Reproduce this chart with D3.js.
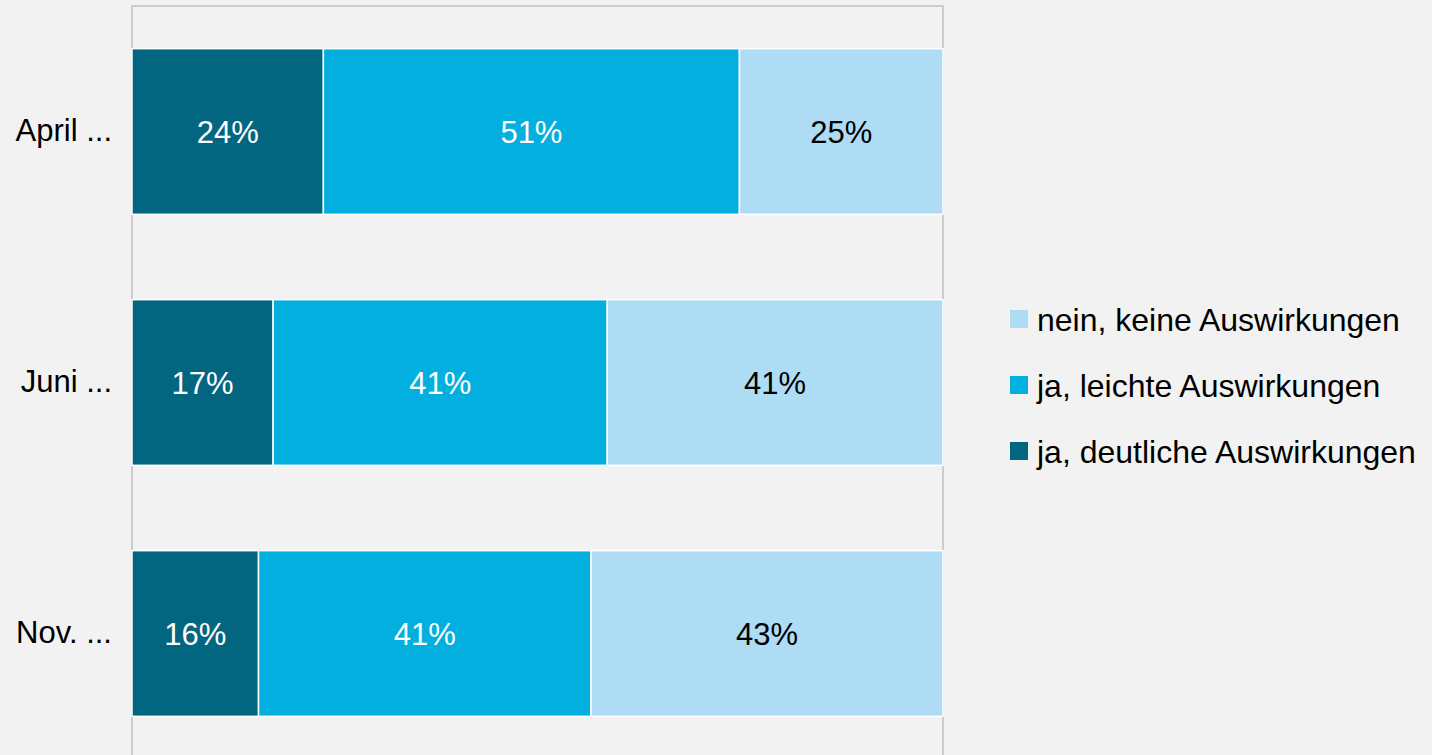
<!DOCTYPE html>
<html>
<head>
<meta charset="utf-8">
<script src="https://cdn.jsdelivr.net/npm/d3@7"></script>
<style>
  html, body { margin: 0; padding: 0; background: #f2f2f2; }
  svg { display: block; font-family: "Liberation Sans", Arial, sans-serif; }
</style>
</head>
<body>
<svg id="chart" width="1432" height="755"></svg>
<script>
const categories = ["April ...", "Juni ...", "Nov. ..."];
const seriesNames = ["ja, deutliche Auswirkungen", "ja, leichte Auswirkungen", "nein, keine Auswirkungen"];
const deutlich = [23.6, 17.4, 15.6];
const leicht = [51.3, 41.2, 41.0];
const keine = [25.1, 41.4, 43.4];
const seriesColors = ["#026680", "#02afde", "#aedcf4"];
const labelColors = ["#ffffff", "#ffffff", "#000000"];

const svg = d3.select("#chart");
const W = 1432, H = 755;
svg.append("rect").attr("width", W).attr("height", H).attr("fill", "#f2f2f2");

const plot = { left: 132, right: 943, top: 6, bottom: 759 };

const x = d3.scaleLinear().domain([0, 100]).range([plot.left, plot.right]);
const y = d3.scaleBand().domain(categories).range([plot.top, plot.bottom])
  .paddingInner(0.34).paddingOuter(0.17);

// frame
svg.append("rect")
  .attr("x", plot.left).attr("y", plot.top)
  .attr("width", plot.right - plot.left).attr("height", plot.bottom - plot.top)
  .attr("fill", "none").attr("stroke", "#c0c0c0").attr("stroke-width", 1.5);

const rows = categories.map((c, i) => ({ cat: c, vals: [deutlich[i], leicht[i], keine[i]] }));
const stack = d3.stack().keys([0, 1, 2]).value((d, k) => d.vals[k]);
const stacked = stack(rows);

const g = svg.append("g");
stacked.forEach((layer, si) => {
  g.selectAll(null).data(layer).enter().append("rect")
    .attr("x", d => x(d[0]))
    .attr("y", d => y(d.data.cat))
    .attr("width", d => x(d[1]) - x(d[0]))
    .attr("height", y.bandwidth())
    .attr("fill", seriesColors[si])
    .attr("stroke", "#ffffff").attr("stroke-width", 1.5);
  g.selectAll(null).data(layer).enter().append("text")
    .attr("x", d => (x(d[0]) + x(d[1])) / 2)
    .attr("y", d => y(d.data.cat) + y.bandwidth() / 2)
    .attr("dy", "0.36em")
    .attr("text-anchor", "middle")
    .attr("font-size", 31)
    .attr("fill", labelColors[si])
    .text(d => Math.round(d[1] - d[0]) + "%");
});

// category axis
const yAxis = d3.axisLeft(y).tickSize(0).tickPadding(20);
const ya = svg.append("g").attr("transform", `translate(${plot.left},0)`).call(yAxis);
ya.select(".domain").remove();
ya.selectAll("text").attr("font-size", 31).attr("fill", "#000")
  .attr("font-family", "'Liberation Sans', Arial, sans-serif");

// legend (reversed order)
const legendOrder = [2, 1, 0];
const ly = d3.scalePoint().domain(legendOrder).range([319, 451]);
const leg = svg.append("g");
legendOrder.forEach(si => {
  leg.append("rect").attr("x", 1010).attr("y", ly(si) - 9).attr("width", 18).attr("height", 18)
    .attr("fill", seriesColors[si]);
  leg.append("text").attr("x", 1037).attr("y", ly(si)).attr("dy", "0.36em")
    .attr("font-size", 32).attr("fill", "#000").text(seriesNames[si]);
});
</script>
</body>
</html>
